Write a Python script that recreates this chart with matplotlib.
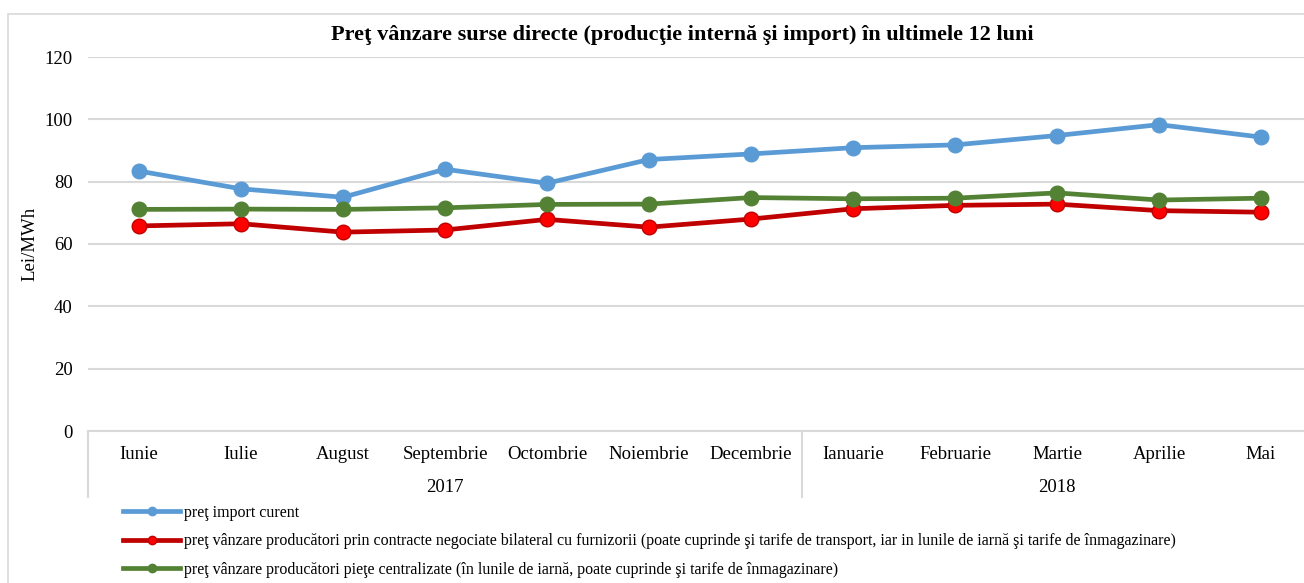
import matplotlib.pyplot as plt
from matplotlib.lines import Line2D
from matplotlib.patches import Rectangle
import matplotlib.transforms as mtransforms

months = ["Iunie", "Iulie", "August", "Septembrie", "Octombrie", "Noiembrie",
          "Decembrie", "Ianuarie", "Februarie", "Martie", "Aprilie", "Mai"]
years = ["2017", "2018"]
months_per_year = [7, 5]

import_price = [83.4, 77.7, 75.0, 84.0, 79.5, 87.1, 88.9, 90.9, 91.8, 94.8, 98.3, 94.3]
bilateral_price = [65.8, 66.5, 63.8, 64.5, 67.9, 65.4, 68.0, 71.3, 72.4, 72.8, 70.7, 70.2]
central_price = [71.1, 71.2, 71.1, 71.6, 72.7, 72.8, 74.9, 74.5, 74.7, 76.4, 74.1, 74.7]

labels = [
    "preţ import curent",
    "preţ vânzare producători prin contracte negociate bilateral cu furnizorii "
    "(poate cuprinde şi tarife de transport, iar in lunile de iarnă şi tarife de înmagazinare)",
    "preţ vânzare producători pieţe centralizate (în lunile de iarnă, poate cuprinde "
    "şi tarife de înmagazinare)",
]

plt.rcParams["font.family"] = ["Liberation Serif", "DejaVu Serif"]

W, H = 1304, 583
fig = plt.figure(figsize=(W / 100, H / 100), dpi=100)

# outer chart frame (cropped on right and bottom in the original)
fig.patches.append(Rectangle((8 / W, -0.2), 1.2, 1.2 - 14 / H,
                             transform=fig.transFigure, fill=False,
                             edgecolor="#d9d9d9", linewidth=1.2))

left, right, top, bottom = 88, 1312, 57, 431
ax = fig.add_axes([left / W, 1 - bottom / H, (right - left) / W, (bottom - top) / H])

x = list(range(len(months)))
ax.plot(x, import_price, color="#5b9bd5", lw=3.4, marker="o", ms=10.5,
        mfc="#5b9bd5", mec="#5b9bd5", zorder=3)
ax.plot(x, bilateral_price, color="#c00000", lw=3.4, marker="o", ms=10.5,
        mfc="#ff0000", mec="#c00000", zorder=3)
ax.plot(x, central_price, color="#548235", lw=3.4, marker="o", ms=10.5,
        mfc="#548235", mec="#548235", zorder=4)

ax.set_xlim(-0.5, len(months) - 0.5)
ax.set_ylim(0, 120)
ax.set_yticks(range(0, 121, 20))
ax.grid(axis="y", color="#d9d9d9", lw=1.5)
ax.set_axisbelow(True)
for s in ["top", "right", "left"]:
    ax.spines[s].set_visible(False)
ax.spines["bottom"].set_color("#d9d9d9")
ax.spines["bottom"].set_linewidth(1.5)
ax.tick_params(axis="y", length=0, pad=11, labelsize=13.5)
ax.set_xticks(x)
ax.set_xticklabels(months, fontsize=13.5)
ax.tick_params(axis="x", length=0, pad=11)
ax.set_ylabel("Lei/MWh", fontsize=13.5, va="center")
ax.yaxis.set_label_coords(-(left - 30) / (right - left), 0.5)

# year row and separators
trans = mtransforms.blended_transform_factory(ax.transData, ax.transAxes)
sep_bottom = -(497 - 431) / (bottom - top)
start = 0
for yr, n in zip(years, months_per_year):
    ax.text(start + (n - 1) / 2, -(488 - 431) / (bottom - top), yr, transform=trans,
            ha="center", va="center", fontsize=13.5)
    ax.add_line(Line2D([start - 0.5, start - 0.5], [0, sep_bottom], transform=trans,
                       color="#d9d9d9", lw=1.5, clip_on=False))
    start += n
ax.add_line(Line2D([start - 0.5, start - 0.5], [0, sep_bottom], transform=trans,
                   color="#d9d9d9", lw=1.5, clip_on=False))

fig.text(682 / W, 1 - 35 / H, "Preţ vânzare surse directe (producţie internă şi import) "
         "în ultimele 12 luni", ha="center", va="center", fontsize=16, fontweight="bold")

handles = [
    Line2D([], [], color="#5b9bd5", lw=3.4, marker="o", ms=6, mfc="#5b9bd5", mec="#5b9bd5"),
    Line2D([], [], color="#c00000", lw=3.4, marker="o", ms=6, mfc="#ff0000", mec="#c00000"),
    Line2D([], [], color="#548235", lw=3.4, marker="o", ms=6, mfc="#548235", mec="#548235"),
]
fig.legend(handles, labels, loc="upper left", bbox_to_anchor=(115 / W, 1 - 497 / H),
           frameon=False, fontsize=11.5, handlelength=3.6, handletextpad=0.2,
           labelspacing=0.78, borderpad=0)

fig.savefig("out.png", dpi=100)
